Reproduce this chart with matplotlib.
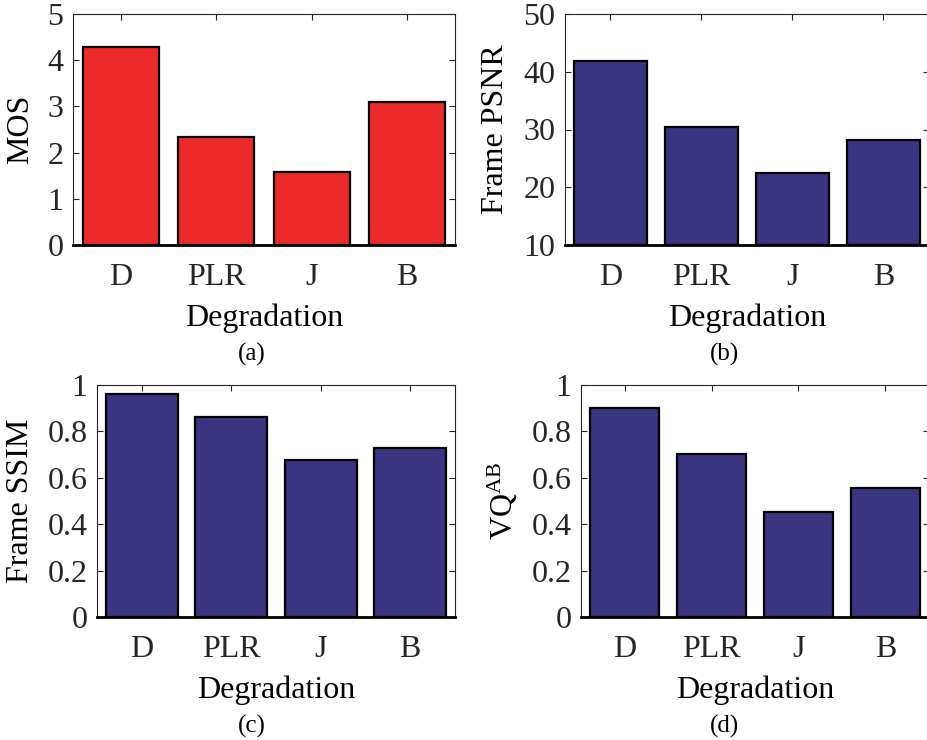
import matplotlib
matplotlib.use("Agg")
import matplotlib.pyplot as plt

plt.rcParams['font.family'] = ['Liberation Serif', 'DejaVu Serif']
plt.rcParams['mathtext.fontset'] = 'custom'
plt.rcParams['mathtext.rm'] = 'Liberation Serif'
plt.rcParams['mathtext.it'] = 'Liberation Serif:italic'

categories = ['D', 'PLR', 'J', 'B']
mos = [4.29, 2.34, 1.57, 3.09]
psnr = [41.9, 30.4, 22.5, 28.2]
ssim = [0.960, 0.860, 0.677, 0.727]
vqab = [0.900, 0.703, 0.453, 0.558]

ylabels = ['MOS', 'Frame PSNR', 'Frame SSIM', 'VQ$^{\\mathrm{AB}}$']
captions = ['(a)', '(b)', '(c)', '(d)']
ylims = [(0, 5), (10, 50), (0, 1), (0, 1)]
yticks = [[0, 1, 2, 3, 4, 5], [10, 20, 30, 40, 50],
          [0, 0.2, 0.4, 0.6, 0.8, 1], [0, 0.2, 0.4, 0.6, 0.8, 1]]
yticklabels = [['0', '1', '2', '3', '4', '5'], ['10', '20', '30', '40', '50'],
               ['0', '0.2', '0.4', '0.6', '0.8', '1'], ['0', '0.2', '0.4', '0.6', '0.8', '1']]
colors = ['#EC2A2A', '#3B3480', '#3B3480', '#3B3480']
series = [mos, psnr, ssim, vqab]

W, H = 928, 740
fig = plt.figure(figsize=(W / 100, H / 100), dpi=100)

# pixel boxes: left, right, top, bottom
boxes = [(73, 455, 14, 245), (565, 929, 14, 245),
         (97, 455, 385, 617), (581, 929, 385, 617)]
ylabel_x = [21, 496, 21, 503]
caption_pos = [(252, 354), (725, 354), (252, 726), (725, 726)]
xlabel_y = [318, 318, 690, 690]

TXT = '#262626'
FS = 23

for i in range(4):
    l, r, t, b = boxes[i]
    ax = fig.add_axes([l / W, 1 - b / H, (r - l) / W, (b - t) / H])
    x = list(range(1, 5))
    base = ylims[i][0]
    heights = [v - base for v in series[i]]
    ax.bar(x, heights, bottom=base, width=0.8, color=colors[i],
           edgecolor='black', linewidth=1.6, zorder=2)
    ax.set_xlim(0.5, 4.5)
    ax.set_ylim(*ylims[i])
    ax.set_xticks(x)
    ax.set_xticklabels(categories)
    ax.set_yticks(yticks[i])
    ax.set_yticklabels(yticklabels[i])
    ax.tick_params(direction='in', length=4, width=0.8, top=True, right=True,
                   labelsize=FS, colors=TXT, labelcolor=TXT)
    ax.tick_params(axis='x', pad=13)
    ax.tick_params(axis='y', pad=7)
    for s in ['top', 'right', 'left']:
        ax.spines[s].set_linewidth(0.8)
        ax.spines[s].set_color(TXT)
    ax.spines['bottom'].set_linewidth(2.0)
    ax.spines['bottom'].set_color('black')
    ax.spines['bottom'].set_zorder(3)
    for lbl in ax.get_xticklabels():
        lbl.set_color(TXT)
    fig.text(ylabel_x[i] / W, 1 - ((t + b) / 2) / H, ylabels[i], rotation=90,
             ha='center', va='center', fontsize=FS, color='black')
    fig.text(((l + r) / 2) / W, 1 - xlabel_y[i] / H, 'Degradation',
             ha='center', va='center', fontsize=FS, color='black')
    cx, cy = caption_pos[i]
    fig.text(cx / W, 1 - cy / H, captions[i], ha='center', va='center',
             fontsize=18, color='black')

fig.savefig('out.png', dpi=100)
